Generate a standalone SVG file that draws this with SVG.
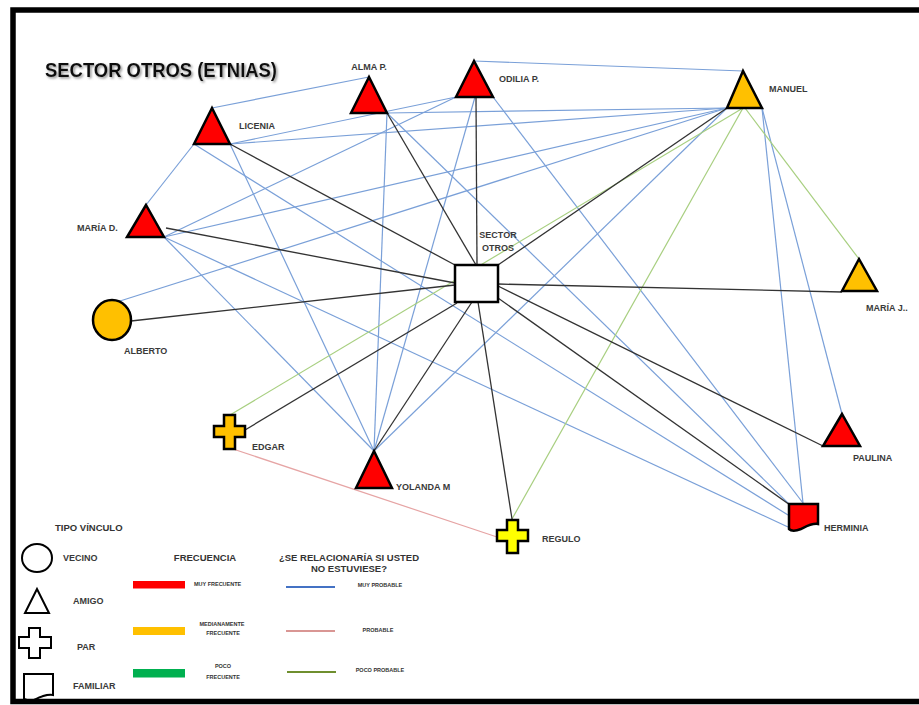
<svg xmlns="http://www.w3.org/2000/svg" width="919" height="705" viewBox="0 0 919 705">
<defs>
<style>
.lbl{font-family:"Liberation Sans",Arial,sans-serif;font-size:9px;font-weight:bold;fill:#3a3a3a}
.leg{font-family:"Liberation Sans",Arial,sans-serif;font-size:9.5px;font-weight:bold;fill:#333}
.tiny{font-family:"Liberation Sans",Arial,sans-serif;font-size:5.5px;font-weight:bold;fill:#333}
.b{stroke:#7aa0d8;stroke-width:1.2;fill:none}
.k{stroke:#333;stroke-width:1.3;fill:none}
.g{stroke:#a8cf80;stroke-width:1.2;fill:none}
.p{stroke:#e6a4a4;stroke-width:1.2;fill:none}
.node{stroke:#000;stroke-width:2.5;stroke-linejoin:miter}
.red{fill:#ff0000}
.org{fill:#ffc000}
.yel{fill:#ffff00}
.out{fill:none;stroke:#000;stroke-width:2}
</style>
<filter id="sh" x="-5%" y="-30%" width="110%" height="160%"><feDropShadow dx="1.5" dy="1.5" stdDeviation="1" flood-color="#777" flood-opacity="0.8"/></filter>
</defs>
<rect width="919" height="705" fill="#fff"/>
<path d="M919,10 H13 V701.5 H919" fill="none" stroke="#000" stroke-width="5.5"/>
<g id="title">
<text x="45" y="77" font-family="Liberation Sans,Arial,sans-serif" font-size="20" font-weight="bold" fill="#111" filter="url(#sh)" textLength="232" lengthAdjust="spacingAndGlyphs">SECTOR OTROS (ETNIAS)</text>
</g>
<g id="connectors">
<line class="b" x1="212" y1="108" x2="369" y2="77"/>
<line class="b" x1="474" y1="61" x2="743" y2="71"/>
<line class="b" x1="194" y1="144" x2="146" y2="205"/>
<line class="b" x1="230" y1="144" x2="456" y2="97"/>
<line class="b" x1="230" y1="144" x2="727" y2="108"/>
<line class="b" x1="230" y1="144" x2="374" y2="451"/>
<line class="b" x1="194" y1="144" x2="788" y2="515"/>
<line class="b" x1="387" y1="113" x2="727" y2="108"/>
<line class="b" x1="387" y1="113" x2="374" y2="451"/>
<line class="b" x1="387" y1="113" x2="790" y2="505"/>
<line class="b" x1="164" y1="237" x2="456" y2="97"/>
<line class="b" x1="164" y1="237" x2="727" y2="108"/>
<line class="b" x1="164" y1="237" x2="374" y2="451"/>
<line class="b" x1="164" y1="237" x2="788" y2="527"/>
<line class="b" x1="120" y1="301" x2="727" y2="108"/>
<line class="b" x1="475" y1="97" x2="374" y2="451"/>
<line class="b" x1="493" y1="97" x2="803" y2="503"/>
<line class="b" x1="727" y1="108" x2="374" y2="451"/>
<line class="b" x1="762" y1="108" x2="842" y2="414"/>
<line class="b" x1="762" y1="108" x2="803" y2="503"/>
<line class="g" x1="230" y1="415" x2="743" y2="108"/>
<line class="g" x1="743" y1="108" x2="512" y2="519"/>
<line class="g" x1="745" y1="108" x2="859" y2="259"/>
<line class="p" x1="233" y1="449" x2="497" y2="537"/>
<line class="k" x1="230" y1="144" x2="455" y2="265"/>
<line class="k" x1="387" y1="113" x2="476" y2="265"/>
<line class="k" x1="476" y1="97" x2="477" y2="265"/>
<line class="k" x1="727" y1="108" x2="498" y2="265"/>
<line class="k" x1="166" y1="228" x2="455" y2="283"/>
<line class="k" x1="131" y1="321" x2="455" y2="285"/>
<line class="k" x1="245" y1="430" x2="457" y2="303"/>
<line class="k" x1="374" y1="451" x2="472" y2="302"/>
<line class="k" x1="478" y1="302" x2="512" y2="519"/>
<line class="k" x1="498" y1="284" x2="842" y2="292"/>
<line class="k" x1="498" y1="286" x2="823" y2="446"/>
<line class="k" x1="498" y1="298" x2="790" y2="505"/>
</g>
<g id="sector">
<rect class="node" x="455" y="265" width="43" height="37" fill="#fff"/>
<text class="lbl" x="498" y="238" text-anchor="middle">SECTOR</text>
<text class="lbl" x="498" y="251" text-anchor="middle">OTROS</text>
</g>
<g id="alma">
<polygon class="node red" points="369,77 351,113 387,113"/>
<text class="lbl" x="369" y="70" text-anchor="middle">ALMA P.</text>
</g>
<g id="licenia">
<polygon class="node red" points="212,108 194,144 230,144"/>
<text class="lbl" x="239" y="129">LICENIA</text>
</g>
<g id="mariad">
<polygon class="node red" points="146,205 127,237 164,237"/>
<text class="lbl" x="77" y="231">MARÍA D.</text>
</g>
<g id="odilia">
<polygon class="node red" points="474,61 456,97 493,97"/>
<text class="lbl" x="499" y="82">ODILIA P.</text>
</g>
<g id="manuel">
<polygon class="node org" points="743,71 727,108 762,108"/>
<text class="lbl" x="769" y="92">MANUEL</text>
</g>
<g id="mariaj">
<polygon class="node org" points="859,259 842,291 877,291"/>
<text class="lbl" x="866" y="311">MARÍA J..</text>
</g>
<g id="paulina">
<polygon class="node red" points="842,414 823,446 860,446"/>
<text class="lbl" x="853" y="461">PAULINA</text>
</g>
<g id="herminia">
<path class="node red" d="M789,504 H818 V524 C812,523 807,526 801,529 C796,531 791,531 789,529 Z"/>
<text class="lbl" x="824" y="531">HERMINIA</text>
</g>
<g id="regulo">
<path class="node yel" d="M507,520 H518 V530 H528 V541 H518 V553 H507 V541 H497 V530 H507 Z"/>
<text class="lbl" x="542" y="542">REGULO</text>
</g>
<g id="alberto">
<ellipse class="node org" cx="112" cy="320" rx="19" ry="20"/>
<text class="lbl" x="124" y="354">ALBERTO</text>
</g>
<g id="edgar">
<path class="node org" d="M224,415 H235 V426 H245 V437 H235 V449 H224 V437 H214 V426 H224 Z"/>
<text class="lbl" x="252" y="450">EDGAR</text>
</g>
<g id="yolanda">
<polygon class="node red" points="374,451 356,488 392,488"/>
<text class="lbl" x="396" y="490">YOLANDA M</text>
</g>
<g id="legend">
<text class="leg" x="55" y="531">TIPO VÍNCULO</text>
<ellipse class="out" cx="37" cy="558" rx="15" ry="14"/>
<text class="lbl" x="63" y="561">VECINO</text>
<polygon class="out" points="37,589 25,613 49,613"/>
<text class="lbl" x="73" y="604">AMIGO</text>
<path class="out" d="M29,628 H40 V637 H51 V648 H40 V658 H29 V648 H19 V637 H29 Z"/>
<text class="lbl" x="77" y="650">PAR</text>
<path class="out" d="M24,674 H53 V695 C46,694 40,697 34,700 C30,701 26,700 24,699 Z"/>
<text class="lbl" x="73" y="689">FAMILIAR</text>
<text class="leg" x="205" y="561" text-anchor="middle">FRECUENCIA</text>
<rect x="133" y="581" width="52" height="7.5" fill="#ff0000"/>
<text class="tiny" x="194" y="586">MUY FRECUENTE</text>
<rect x="133" y="627" width="52" height="8" fill="#ffc000"/>
<text class="tiny" x="222" y="626" text-anchor="middle">MEDIANAMENTE</text>
<text class="tiny" x="223" y="635" text-anchor="middle">FRECUENTE</text>
<rect x="133" y="669" width="52" height="8.5" fill="#00b050"/>
<text class="tiny" x="223" y="668" text-anchor="middle">POCO</text>
<text class="tiny" x="223" y="679" text-anchor="middle">FRECUENTE</text>
<text class="leg" x="349" y="561" text-anchor="middle">¿SE RELACIONARÍA SI USTED</text>
<text class="leg" x="349" y="572" text-anchor="middle">NO ESTUVIESE?</text>
<line x1="286" y1="587" x2="335" y2="587" stroke="#4472c4" stroke-width="2"/>
<text class="tiny" x="380" y="587" text-anchor="middle">MUY PROBABLE</text>
<line x1="286" y1="631" x2="335" y2="631" stroke="#d99694" stroke-width="2"/>
<text class="tiny" x="378" y="632" text-anchor="middle">PROBABLE</text>
<line x1="287" y1="672" x2="336" y2="672" stroke="#6f8f2f" stroke-width="2"/>
<text class="tiny" x="380" y="672" text-anchor="middle">POCO PROBABLE</text>
</g>
</svg>
